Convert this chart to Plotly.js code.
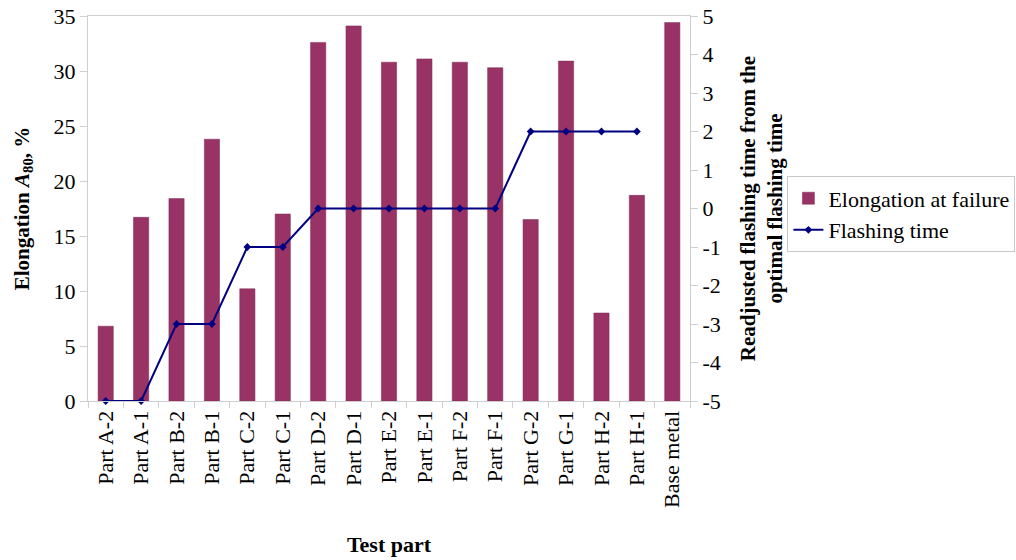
<!DOCTYPE html>
<html>
<head>
<meta charset="utf-8">
<script src="https://cdn.plot.ly/plotly-3.0.1.min.js"></script>
<style>html,body{margin:0;padding:0;background:#fff;}#chart{width:1016px;height:560px;}</style>
</head>
<body>
<div id="chart"></div>
<script>
const categories = ["Part A-2","Part A-1","Part B-2","Part B-1","Part C-2","Part C-1","Part D-2","Part D-1","Part E-2","Part E-1","Part F-2","Part F-1","Part G-2","Part G-1","Part H-2","Part H-1","Base metal"];
const elongation = [6.8,16.7,18.4,23.8,10.2,17.0,32.6,34.1,30.8,31.1,30.8,30.3,16.5,30.9,8.0,18.7,34.4];
const flashCategories = ["Part A-2","Part A-1","Part B-2","Part B-1","Part C-2","Part C-1","Part D-2","Part D-1","Part E-2","Part E-1","Part F-2","Part F-1","Part G-2","Part G-1","Part H-2","Part H-1"];
const flashingTime = [-5,-5,-3,-3,-1,-1,0,0,0,0,0,0,2,2,2,2];
const leftTicks = [0,5,10,15,20,25,30,35];
const rightTicks = [-5,-4,-3,-2,-1,0,1,2,3,4,5];

const font = "Times New Roman, Liberation Serif, serif";
const axisGray = "#cfcfcf";

const traces = [
  {
    type: "bar", name: "Elongation at failure",
    x: categories, y: elongation,
    marker: {color: "#993366", line: {color: "#7a2a52", width: 0.5}},
    width: 0.43, yaxis: "y"
  },
  {
    type: "scatter", mode: "lines+markers", name: "Flashing time",
    x: flashCategories, y: flashingTime, yaxis: "y2",
    line: {color: "#000080", width: 2},
    marker: {symbol: "diamond", size: 6, color: "#000080"},
    cliponaxis: false
  }
];

const layout = {
  width: 1016, height: 560,
  margin: {l: 88, r: 326, t: 16, b: 159},
  paper_bgcolor: "#fff", plot_bgcolor: "#fff",
  font: {family: font, size: 22, color: "#000"},
  showlegend: true,
  legend: {
    xref: "container", yref: "container",
    x: 0.775, y: 0.685, xanchor: "left", yanchor: "top",
    bordercolor: "#c8c8c8", borderwidth: 1, bgcolor: "#fff",
    tracegroupgap: 0, itemwidth: 30
  },
  xaxis: {
    type: "category",
    categoryorder: "array", categoryarray: categories,
    range: [-0.5, 16.5], autorange: false,
    tickangle: -90,
    showline: true, linecolor: axisGray, linewidth: 1, mirror: true,
    ticks: "outside", tickson: "boundaries", ticklen: 6, tickcolor: axisGray,
    showgrid: false, zeroline: false,
    tickfont: {family: font, size: 22, color: "#000"},
    title: {text: "<b>Test part</b>", font: {family: font, size: 22, color: "#000"}, standoff: 29}
  },
  yaxis: {
    range: [0, 35], tickvals: leftTicks, ticktext: leftTicks.map(String),
    showline: true, linecolor: axisGray, linewidth: 1,
    ticks: "outside", ticklen: 7, tickcolor: axisGray,
    showgrid: false, zeroline: false,
    tickfont: {family: font, size: 22, color: "#000"},
    title: {text: "<b>Elongation <i>A</i><sub>80</sub>, %</b>", font: {family: font, size: 21, color: "#000"}, standoff: 18}
  },
  yaxis2: {
    overlaying: "y", side: "right",
    range: [-5, 5], tickvals: rightTicks, ticktext: rightTicks.map(String),
    showline: true, linecolor: axisGray, linewidth: 1,
    ticks: "outside", ticklen: 7, tickcolor: axisGray,
    showgrid: false, zeroline: false,
    tickfont: {family: font, size: 22, color: "#000"},
    title: {text: "<b>Readjusted flashing time from the<br>optimal flashing time</b>", font: {family: font, size: 21, color: "#000"}, standoff: 24}
  }
};

Plotly.newPlot("chart", traces, layout, {staticPlot: true, displayModeBar: false});
</script>
</body>
</html>
